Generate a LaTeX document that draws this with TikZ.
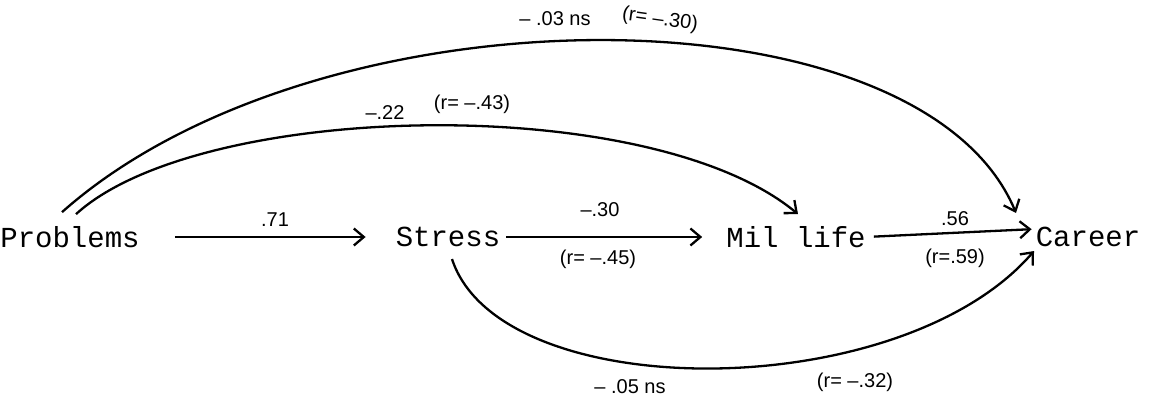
\documentclass[tikz,border=0pt]{standalone}
\usepackage{fontspec}
\setmainfont{Liberation Sans}
\setmonofont{Liberation Mono}
\usetikzlibrary{arrows.meta, positioning, calc}

\begin{document}
\begin{tikzpicture}[x=1pt, y=1pt,
    var/.style={font=\ttfamily\fontsize{29}{29}\selectfont, inner sep=0pt},
    path/.style={line width=2.3pt, -{Straight Barb[length=10pt, width=17pt, line width=2.3pt]}},
    coef/.style={font=\fontsize{20}{20}\selectfont, inner sep=1pt}]
\useasboundingbox (0,0) rectangle (1166,401);
% Variables
\node[var] (prob) at (70,164) {Problems};
\node[var] (stress) at (448,164) {Stress};
\node[var] (mil) at (796,164) {Mil life};
\node[var] (career) at (1088,164) {Career};
% Straight paths
\draw[path, shorten <=35pt, shorten >=30pt] (prob.east) -- (stress.west);
\node[coef] at (275,181) {.71};
\draw[path, shorten <=6pt, shorten >=24pt] (stress.east) -- (mil.west);
\node[coef] at (600,191) {--.30};
\node[coef] at (598,142) {(r= --.45)};
\draw[path, shorten <=8pt, shorten >=4pt] (mil.east) -- ([yshift=8pt]career.west);
\node[coef] at (955,182) {.56};
\node[coef] at (955,143) {(r=.59)};
% Problems -> Career (top)
\coordinate (pc0) at ([xshift=-8pt, yshift=14pt]prob.north);
\coordinate (pc1) at ([xshift=-72pt, yshift=14pt]career.north);
\draw[path] (pc0) .. controls (320,418) and (920,418) .. (pc1);
\node[coef] at (555,382) {-- .03 ns};
\node[coef, rotate=-8] at (660,381) {(r= --.30)};
% Problems -> Mil life
\coordinate (pm0) at ([xshift=6pt, yshift=12pt]prob.north);
\coordinate (pm1) at ([xshift=2pt, yshift=12pt]mil.north);
\draw[path] (pm0) .. controls (200,300) and (650,310) .. (pm1);
\node[coef] at (385,288) {--.22};
\node[coef] at (472,297) {(r= --.43)};
% Stress -> Career (bottom)
\coordinate (sc0) at ([xshift=4pt, yshift=-12pt]stress.south);
\coordinate (sc1) at ([xshift=-54pt, yshift=-4pt]career.south);
\draw[path] (sc0) .. controls (500,-5) and (900,-5) .. (sc1);
\node[coef] at (630,14) {-- .05 ns};
\node[coef] at (855,19) {(r= --.32)};
\end{tikzpicture}
\end{document}
